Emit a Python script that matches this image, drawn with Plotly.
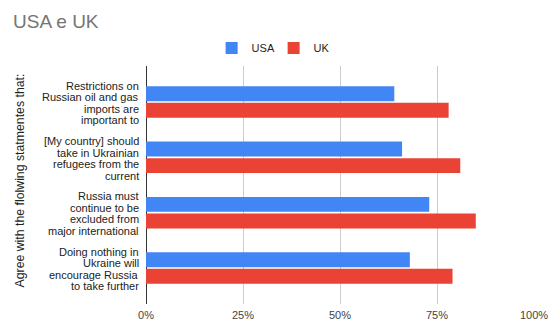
import plotly.graph_objects as go

# ---- data ----
category_lines = [
    ["Restrictions on", "Russian oil and gas", "imports are", "important to"],
    ["[My country] should", "take in Ukrainian", "refugees from the", "current"],
    ["Russia must", "continue to be", "excluded from", "major international"],
    ["Doing nothing in", "Ukraine will", "encourage Russia", "to take further"],
]
categories = [" ".join(l) for l in category_lines]
usa = [64, 66, 73, 68]
uk = [78, 81, 85, 79]
x_tick_vals = [0, 25, 50, 75, 100]
x_tick_text = ["0%", "25%", "50%", "75%", "100%"]
title_text = "USA e UK"
y_title = "Agree with the flolwing statmentes that:"

FONT = "Liberation Sans, Arial, sans-serif"
W, H = 555, 321
ML, MR, MT, MB = 146, 21, 66, 17
PW, PH = W - ML - MR, H - MT - MB

fig = go.Figure()
fig.add_bar(y=categories, x=usa, orientation="h", name="USA",
            marker=dict(color="#4285F4", line=dict(width=0)))
fig.add_bar(y=categories, x=uk, orientation="h", name="UK",
            marker=dict(color="#EA4335", line=dict(width=0)))

annotations = []
line_gap = 11.5
for cat, lines in zip(categories, category_lines):
    n = len(lines)
    for j, txt in enumerate(lines):
        annotations.append(dict(
            text=txt, xref="paper", x=0, xanchor="right", xshift=-5,
            yref="y", y=cat, yanchor="middle",
            yshift=-(j - (n - 1) / 2) * line_gap - 1,
            showarrow=False, font=dict(family=FONT, size=11, color="#222222")))

annotations.append(dict(
    text=y_title, xref="paper", x=(19.5 - ML) / PW, xanchor="center",
    yref="paper", y=(H - MB - 181) / PH, yanchor="middle", textangle=-90,
    showarrow=False, font=dict(family=FONT, size=12.3, color="#222222")))

fig.update_layout(
    width=W, height=H,
    margin=dict(l=ML, r=MR, t=MT, b=MB, autoexpand=False),
    paper_bgcolor="white", plot_bgcolor="white",
    font=dict(family=FONT, size=11, color="#222222"),
    title=dict(text=title_text, x=13 / W, xanchor="left", xref="container",
               y=1 - 21.5 / H, yanchor="middle", yref="container",
               font=dict(family=FONT, size=19, color="#757575")),
    barmode="group", bargap=0.4, bargroupgap=0.1,
    showlegend=True,
    legend=dict(orientation="h", xref="container", x=0.493, xanchor="center",
                yref="container", y=1 - 48 / H, yanchor="middle",
                entrywidth=17, entrywidthmode="pixels",
                font=dict(family=FONT, size=11, color="#222222"),
                traceorder="normal"),
    xaxis=dict(range=[0, 100], tickvals=x_tick_vals, ticktext=x_tick_text,
               showgrid=True, gridcolor="#cccccc", gridwidth=1,
               zeroline=True, zerolinecolor="#333333", zerolinewidth=1,
               showline=False, ticks="outside", ticklen=1, tickcolor="rgba(0,0,0,0)",
               automargin=False,
               tickfont=dict(family=FONT, size=11, color="#444444")),
    yaxis=dict(type="category", range=[3.65, -0.65], showticklabels=False,
               automargin=False,
               showgrid=False, zeroline=False, showline=False, ticks=""),
    annotations=annotations,
)

fig.write_html("out.html")
